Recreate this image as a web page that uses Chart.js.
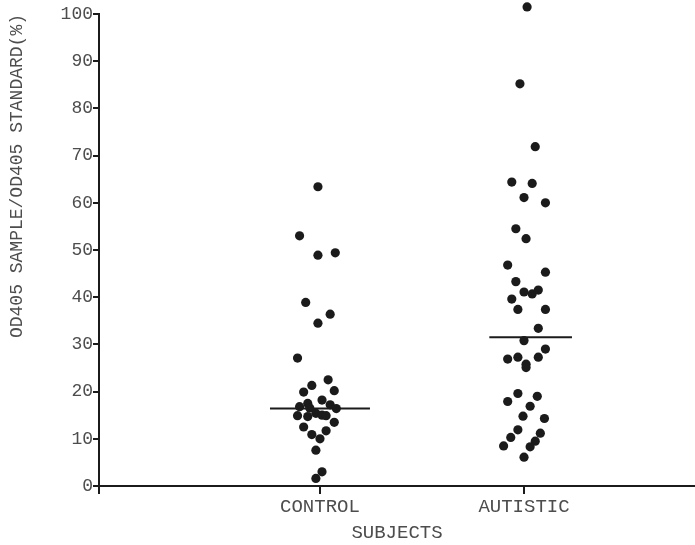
<!DOCTYPE html>
<html>
<head>
<meta charset="utf-8">
<script src="https://cdn.jsdelivr.net/npm/chart.js@4"></script>
<style>
  html, body { margin: 0; padding: 0; background: #fff; }
  #wrap { width: 695px; height: 545px; }
</style>
</head>
<body>
<div id="wrap"><canvas id="scatterChart" width="695" height="545"></canvas></div>
<script>
// groups on the x axis
const groups = ["CONTROL", "AUTISTIC"];
const groupPos = [1, 2];

// control subjects: horizontal jitter position, value (%)
const controlX = [0.99, 0.90, 0.99, 1.075, 0.93, 1.05, 0.99, 0.89, 1.04, 0.96, 0.92, 1.07, 1.01, 0.94, 0.90, 0.95,
  1.05, 1.08, 0.89, 0.94, 0.98, 1.01, 1.03, 0.92, 1.07, 0.96, 1.03, 1.00, 0.98, 1.01, 0.98];
const controlY = [63.4, 53.0, 48.9, 49.4, 38.9, 36.4, 34.5, 27.1, 22.5, 21.3, 19.9, 20.2, 18.2, 17.5, 16.8, 16.5,
  17.2, 16.4, 14.9, 14.7, 15.4, 15.0, 14.9, 12.5, 13.5, 10.9, 11.7, 10.0, 7.6, 3.0, 1.6];

// autistic subjects
const autisticX = [2.015, 1.98, 2.055, 1.94, 2.04, 2.00, 2.105, 1.96, 2.01, 1.92, 2.105, 1.96, 2.00, 2.04, 2.07, 1.94,
  1.97, 2.105, 2.07, 2.00, 1.92, 1.97, 2.01, 2.01, 2.07, 2.105, 1.97, 1.92, 2.065, 2.03, 1.995, 2.10,
  1.97, 1.935, 2.08, 2.055, 1.90, 2.03, 2.00];
const autisticY = [101.5, 85.2, 71.9, 64.4, 64.1, 61.1, 60.0, 54.5, 52.4, 46.8, 45.3, 43.3, 41.1, 40.7, 41.5, 39.6,
  37.4, 37.4, 33.4, 30.8, 26.9, 27.3, 25.8, 25.1, 27.3, 29.0, 19.6, 17.9, 19.0, 16.9, 14.8, 14.3,
  11.9, 10.3, 11.2, 9.5, 8.5, 8.3, 6.1];

// horizontal bars (group median) and how far they reach left/right
const medians = [16.4, 31.5];
const barLeft = [0.755, 1.83];
const barRight = [1.245, 2.235];

const yTicks = [0, 10, 20, 30, 40, 50, 60, 70, 80, 90, 100];

const fontFamily = '"Liberation Mono", "Courier New", monospace';
const ink = '#1b1b1b';
const textGrey = '#4d4d4d';

function toPoints(xs, ys) {
  return ys.map((y, i) => ({ x: xs[i], y: y }));
}

const datasets = [
  {
    data: toPoints(controlX, controlY),
    backgroundColor: ink,
    borderWidth: 0,
    pointRadius: 4.6,
    clip: false
  },
  {
    data: toPoints(autisticX, autisticY),
    backgroundColor: ink,
    borderWidth: 0,
    pointRadius: 4.6,
    clip: false
  }
];

medians.forEach((m, i) => {
  datasets.push({
    data: [{ x: barLeft[i], y: m }, { x: barRight[i], y: m }],
    showLine: true,
    borderColor: ink,
    borderWidth: 2,
    pointRadius: 0
  });
});

// points above 100 sit over the top of the axis, chart.js skips them unless the area is widened while drawing
const overflowPoints = {
  id: 'overflowPoints',
  beforeDatasetsDraw(chart) {
    chart._savedTop = chart.chartArea.top;
    chart.chartArea.top = 0;
  },
  afterDatasetsDraw(chart) {
    chart.chartArea.top = chart._savedTop;
  }
};

new Chart(document.getElementById("scatterChart"), {
  type: 'scatter',
  data: { datasets: datasets },
  plugins: [overflowPoints],
  options: {
    responsive: false,
    animation: false,
    layout: { autoPadding: false, padding: { top: 14, left: 0, right: 0, bottom: 0 } },
    plugins: {
      legend: { display: false },
      tooltip: { enabled: false }
    },
    scales: {
      x: {
        type: 'linear',
        min: -0.083,
        max: 2.838,
        afterBuildTicks: (scale) => {
          scale.ticks = [{ value: -0.083 }].concat(groupPos.map(v => ({ value: v })));
        },
        afterFit: (scale) => {
          scale.height = 59;
          scale.paddingLeft = 0;
          scale.paddingRight = 0;
        },
        ticks: {
          autoSkip: false,
          maxRotation: 0,
          padding: 2,
          color: textGrey,
          font: { family: fontFamily, size: 19 },
          callback: function(value) {
            const i = groupPos.indexOf(value);
            return i >= 0 ? groups[i] : '';
          }
        },
        grid: { drawOnChartArea: false, drawTicks: true, tickLength: 8, color: ink, lineWidth: 2 },
        border: { display: true, color: ink, width: 2 },
        title: {
          display: true,
          text: 'SUBJECTS',
          color: textGrey,
          font: { family: fontFamily, size: 19 },
          padding: { top: 0, bottom: 1 }
        }
      },
      y: {
        min: 0,
        max: 100,
        afterBuildTicks: (scale) => {
          scale.ticks = yTicks.map(v => ({ value: v }));
        },
        afterFit: (scale) => { scale.width = 99; },
        ticks: {
          padding: 0,
          color: textGrey,
          font: { family: fontFamily, size: 18 }
        },
        grid: { drawOnChartArea: false, drawTicks: true, tickLength: 6, color: ink, lineWidth: 2 },
        border: { display: true, color: ink, width: 2 },
        title: {
          display: true,
          text: 'OD405 SAMPLE/OD405 STANDARD(%)',
          align: 'end',
          color: textGrey,
          font: { family: fontFamily, size: 18 },
          padding: { top: 6, bottom: 0 }
        }
      }
    }
  }
});
</script>
</body>
</html>
